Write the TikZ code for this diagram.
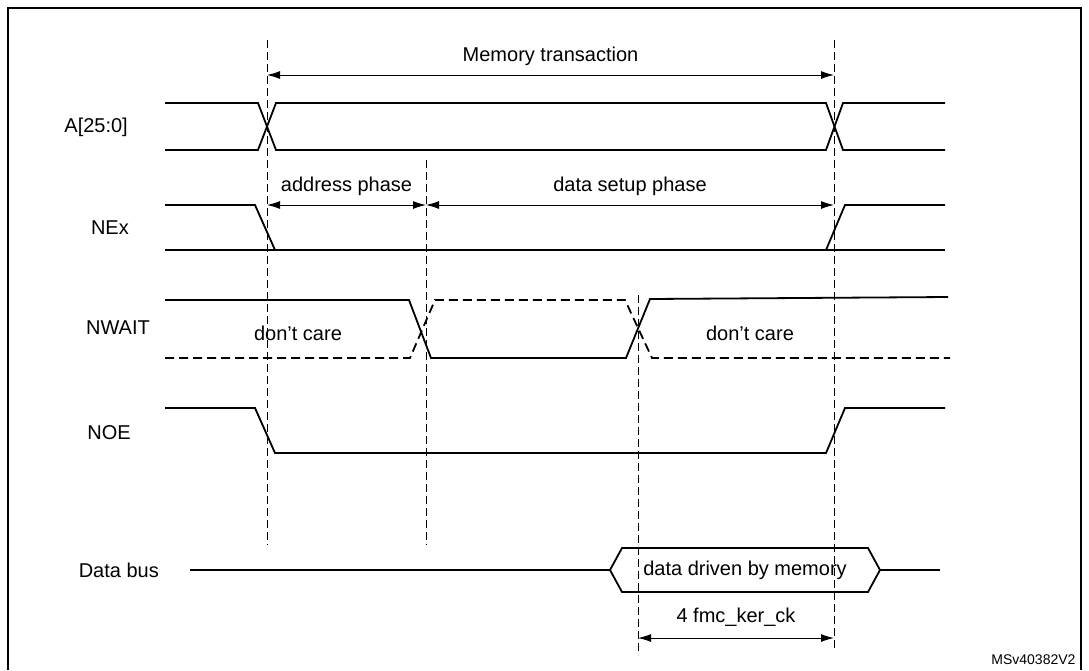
\documentclass[tikz,border=0pt]{standalone}
\usepackage{fontspec}
\setmainfont{Liberation Sans}
\usetikzlibrary{arrows.meta}
\begin{document}
\begin{tikzpicture}[x=1pt,y=-1pt,
  sig/.style={line width=1.8pt},
  dsig/.style={line width=1.8pt,dash pattern=on 9pt off 5pt},
  guide/.style={line width=1pt,dash pattern=on 8pt off 4pt},
  dim/.style={line width=1pt,{Latex[length=13pt,width=8pt]}-{Latex[length=13pt,width=8pt]}},
  lbl/.style={font=\fontsize{20}{24}\selectfont,inner sep=1pt},
  sigl/.style={lbl,anchor=east}]
\useasboundingbox (0,0) rectangle (1089,670);
\fill[white] (0,0) rectangle (1089,670);
\draw[line width=1.5pt] (8,670) -- (8,8) -- (1081,8) -- (1081,670);
% guides
\coordinate (g1t) at (267,40); \coordinate (g1b) at (267,545);
\coordinate (g2t) at (426,160); \coordinate (g2b) at (426,545);
\coordinate (g3t) at (638,295); \coordinate (g3b) at (638,655);
\coordinate (g4t) at (834,40); \coordinate (g4b) at (834,650);
\draw[guide] (g1t)--(g1b); \draw[guide] (g2t)--(g2b);
\draw[guide] (g3t)--(g3b); \draw[guide] (g4t)--(g4b);
% labels
\node[sigl] (la) at (129,127) {A[25:0]};
\node[sigl] (ln) at (130,228) {NEx};
\node[sigl] (lw) at (151,328) {NWAIT};
\node[sigl] (lo) at (132,433) {NOE};
\node[sigl] (ld) at (160,570) {Data bus};
% A
\draw[sig] (165,103)--(258,103)--(276,150)--(826,150)--(843,103)--(945,103);
\draw[sig] (165,150)--(258,150)--(276,103)--(826,103)--(843,150)--(945,150);
% NEx
\draw[sig] (165,205)--(255,205)--(275,250);
\draw[sig] (165,250)--(945,250);
\draw[sig] (826,250)--(845,205)--(945,205);
% NWAIT
\draw[sig] (165,300)--(409,300)--(431,358)--(626,358)--(650,299)--(948,297);
\draw[dsig] (165,358)--(410,358)--(435,300)--(625,300)--(652,358)--(950,358);
\node[lbl] (dc1) at (298,333) {don’t care};
\node[lbl] (dc2) at (750,333) {don’t care};
% NOE
\draw[sig] (165,408)--(255,408)--(275,453)--(826,453)--(845,408)--(945,408);
% data bus
\draw[sig] (190,570)--(610,570);
\draw[sig] (610,570)--(622,548)--(868,548)--(880,570)--(868,592)--(622,592)--cycle;
\draw[sig] (880,570)--(940,570);
\node[lbl] (dd) at (745,570) {data driven by memory};
% dimensions
\coordinate (m1) at (267,75); \coordinate (m2) at (834,75);
\draw[dim] (m1)--(m2) node[lbl,midway,above=8pt] {Memory transaction};
\coordinate (a1) at (267,205); \coordinate (a2) at (426,205); \coordinate (a3) at (834,205);
\draw[dim] (a1)--(a2) node[lbl,midway,above=8pt] {address phase};
\draw[dim] (a2)--(a3) node[lbl,midway,above=8pt] {data setup phase};
\coordinate (c1) at (638,638); \coordinate (c2) at (834,638);
\draw[dim] (c1)--(c2) node[lbl,midway,above=10pt] {4 fmc\_ker\_ck};
\node[font=\fontsize{14}{16}\selectfont,anchor=east] (id) at (1079,660) {MSv40382V2};
\end{tikzpicture}
\end{document}
